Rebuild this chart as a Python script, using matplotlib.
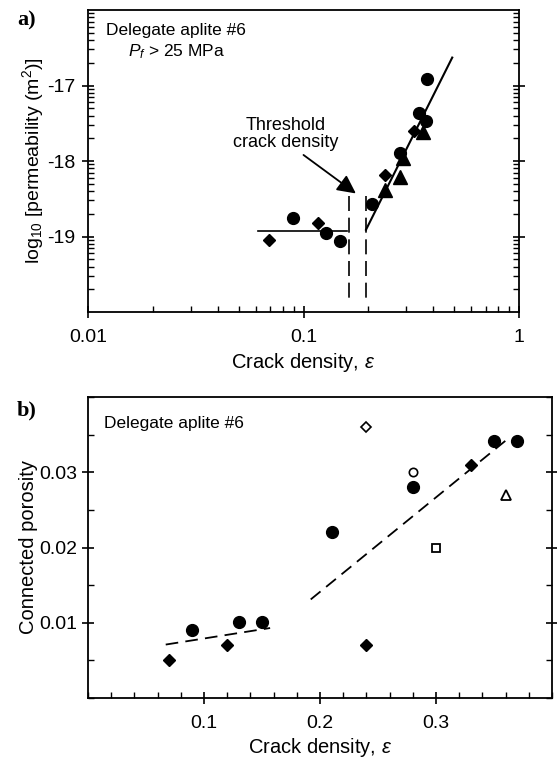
import numpy as np
import matplotlib
matplotlib.use("Agg")
import matplotlib.pyplot as plt
from matplotlib.ticker import FixedLocator, FuncFormatter, LogLocator, MultipleLocator, NullFormatter

plt.rcParams['font.family'] = ['Liberation Sans', 'DejaVu Sans']
plt.rcParams['mathtext.fontset'] = 'custom'
plt.rcParams['mathtext.rm'] = 'Liberation Sans'
plt.rcParams['mathtext.it'] = 'Liberation Sans:italic'
plt.rcParams['mathtext.default'] = 'regular'

# ---- panel a: log10 permeability vs crack density ----
a_circ_x = [0.089, 0.127, 0.148, 0.209, 0.280, 0.344, 0.370, 0.375]
a_circ_y = [-18.76, -18.96, -19.06, -18.57, -17.90, -17.36, -17.47, -16.91]
a_diam_x = [0.069, 0.117, 0.239, 0.326]
a_diam_y = [-19.04, -18.82, -18.19, -17.60]
a_tri_x = [0.239, 0.280, 0.290, 0.360]
a_tri_y = [-18.38, -18.21, -17.96, -17.61]
a_flat_x = [0.0618, 0.159]
a_flat_y = [-18.93, -18.93]
a_fit_x = [0.195, 0.49]
a_fit_y = [-18.91, -16.63]
a_thresh_x = [0.162, 0.194]
a_thresh_y = [-18.47, -19.85]

# ---- panel b: connected porosity vs crack density ----
b_circ_x = [0.09, 0.13, 0.15, 0.21, 0.28, 0.35, 0.37]
b_circ_y = [0.0091, 0.0101, 0.0101, 0.022, 0.028, 0.0341, 0.0341]
b_diam_x = [0.07, 0.12, 0.24, 0.33]
b_diam_y = [0.005, 0.007, 0.007, 0.031]
b_open_diam = (0.24, 0.036)
b_open_circ = (0.28, 0.030)
b_open_sq = (0.30, 0.020)
b_open_tri = (0.36, 0.027)
b_fit1_x = [0.067, 0.157]
b_fit1_y = [0.0071, 0.0093]
b_fit2_x = [0.192, 0.36]
b_fit2_y = [0.0131, 0.0342]

fig = plt.figure(figsize=(5.57, 7.64), dpi=100)
W, H = 557.0, 764.0
axa = fig.add_axes([88 / W, 1 - 312 / H, (519 - 88) / W, 302 / H])
axb = fig.add_axes([88 / W, 1 - 698 / H, (552 - 88) / W, 301 / H])

for ax in (axa, axb):
    for s in ax.spines.values():
        s.set_linewidth(1.3)
    ax.tick_params(which='major', direction='inout', length=8, width=1.2,
                   labelsize=14, right=True, top=False)
    ax.tick_params(which='minor', direction='in', length=4, width=1.0,
                   right=True, top=False)

# panel a
axa.set_xscale('log')
axa.set_xlim(0.01, 1)
axa.set_ylim(-20, -16)
axa.xaxis.set_major_formatter(FuncFormatter(lambda v, p: '%g' % v))
axa.xaxis.set_minor_locator(LogLocator(base=10, subs=np.arange(2, 10)))
axa.xaxis.set_minor_formatter(NullFormatter())
axa.yaxis.set_major_locator(FixedLocator([-19, -18, -17]))
axa.yaxis.set_major_formatter(FuncFormatter(lambda v, p: '%d' % v))
minor_y = [d + np.log10(k) for d in range(-20, -16) for k in range(2, 10)]
axa.yaxis.set_minor_locator(FixedLocator(minor_y))
axa.tick_params(axis='x', which='major', pad=8)
axa.tick_params(axis='y', which='major', pad=5)

axa.plot(a_flat_x, a_flat_y, color='k', lw=1.2)
axa.plot(a_fit_x, a_fit_y, color='k', lw=1.5)
for xv in a_thresh_x:
    axa.plot([xv, xv], a_thresh_y, color='k', lw=1.2, dashes=(9, 4))
axa.plot(a_circ_x, a_circ_y, 'o', color='k', ms=8.5)
axa.plot(a_diam_x, a_diam_y, 'D', color='k', ms=6.5)
axa.plot(a_tri_x, a_tri_y, '^', color='k', ms=9.5)

axa.text(0.083, -17.64, 'Threshold\ncrack density', ha='center', va='center',
         fontsize=13, linespacing=1.0)
axa.annotate('', xy=(0.175, -18.43), xytext=(0.1, -17.92),
             arrowprops=dict(arrowstyle='-|>', mutation_scale=28, lw=1.3, color='k',
                             shrinkA=0, shrinkB=0))
axa.text(0.205, 0.933, 'Delegate aplite #6', transform=axa.transAxes,
         ha='center', va='center', fontsize=12.5)
axa.text(0.205, 0.862, r'$\mathit{P}_\mathit{f}$ > 25 MPa', transform=axa.transAxes,
         ha='center', va='center', fontsize=12.5)
axa.set_xlabel(r'Crack density, $\mathit{\varepsilon}$', fontsize=14.5, labelpad=4)
axa.set_ylabel(r'log$_{10}$ [permeability (m$^2$)]', fontsize=14, labelpad=1)

# panel b
axb.set_xlim(0, 0.4)
axb.set_ylim(0, 0.04)
axb.xaxis.set_major_locator(FixedLocator([0.1, 0.2, 0.3]))
axb.xaxis.set_minor_locator(MultipleLocator(0.02))
axb.yaxis.set_major_locator(FixedLocator([0.01, 0.02, 0.03]))
axb.yaxis.set_minor_locator(MultipleLocator(0.005))
axb.xaxis.set_major_formatter(FuncFormatter(lambda v, p: '%.1f' % v))
axb.yaxis.set_major_formatter(FuncFormatter(lambda v, p: '%.2f' % v))
axb.tick_params(axis='x', which='major', pad=8)
axb.tick_params(axis='y', which='major', pad=4)

axb.plot(b_fit1_x, b_fit1_y, color='k', lw=1.3, dashes=(7, 4))
axb.plot(b_fit2_x, b_fit2_y, color='k', lw=1.3, dashes=(7, 4))
axb.plot(b_circ_x, b_circ_y, 'o', color='k', ms=8.5)
axb.plot(b_diam_x, b_diam_y, 'D', color='k', ms=6.5)
axb.plot(*b_open_diam, 'D', mfc='white', mec='k', ms=5, mew=1.2)
axb.plot(*b_open_circ, 'o', mfc='white', mec='k', ms=6, mew=1.2)
axb.plot(*b_open_sq, 's', mfc='white', mec='k', ms=6, mew=1.3)
axb.plot(*b_open_tri, '^', mfc='white', mec='k', ms=7, mew=1.3)

axb.text(0.035, 0.913, 'Delegate aplite #6', transform=axb.transAxes,
         ha='left', va='center', fontsize=12.5)
axb.set_xlabel(r'Crack density, $\mathit{\varepsilon}$', fontsize=14.5, labelpad=3)
axb.set_ylabel('Connected porosity', fontsize=14.5, labelpad=1)

fig.text(17 / W, 1 - 20 / H, 'a)', fontsize=16, fontweight='bold',
         family=['Liberation Serif', 'DejaVu Serif'], ha='left', va='center')
fig.text(17 / W, 1 - 410 / H, 'b)', fontsize=16, fontweight='bold',
         family=['Liberation Serif', 'DejaVu Serif'], ha='left', va='center')

fig.savefig('out.png', dpi=100)
